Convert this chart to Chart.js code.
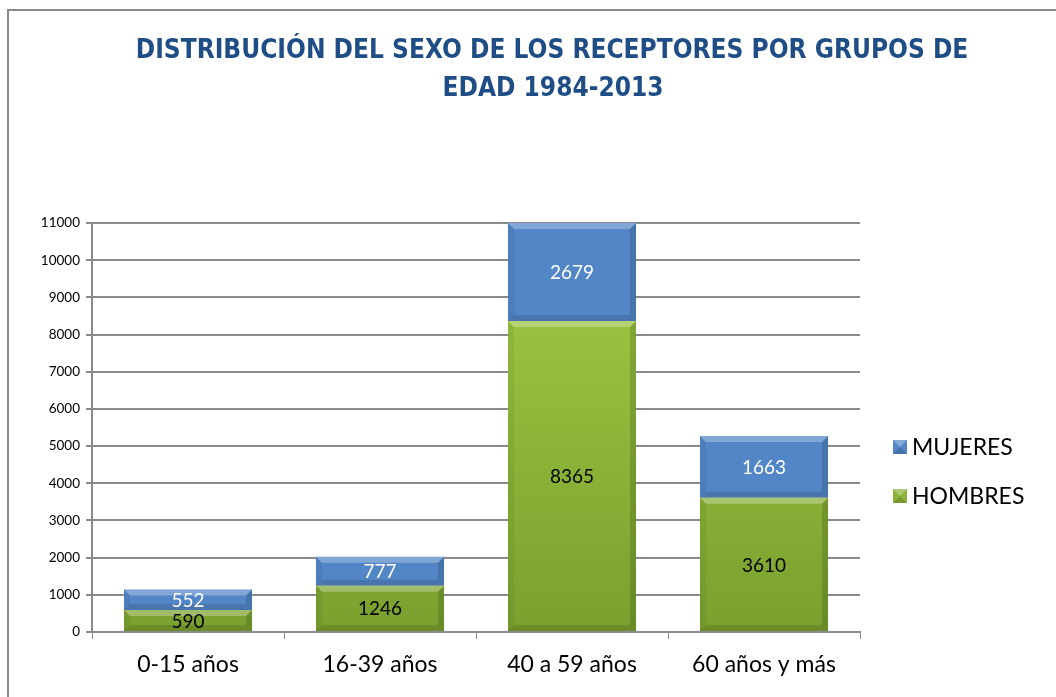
<!DOCTYPE html>
<html>
<head>
<meta charset="utf-8">
<script src="https://cdn.jsdelivr.net/npm/chart.js@4.4.1/dist/chart.umd.min.js"></script>
<style>
  html, body { margin: 0; padding: 0; background: #fff; }
  #wrap { position: relative; width: 1056px; height: 697px; }
</style>
</head>
<body>
<div id="wrap"><canvas id="c" width="1056" height="697"></canvas></div>
<script>
// datos
const categorias = ['0-15 años', '16-39 años', '40 a 59 años', '60 años y más'];
const hombres = [590, 1246, 8365, 3610];
const mujeres = [552, 777, 2679, 1663];
const yMax = 11000;
const yPaso = 1000;
const titulo = ['DISTRIBUCIÓN DEL SEXO DE LOS RECEPTORES POR GRUPOS DE', 'EDAD 1984-2013'];

const FONT = "Lato, 'Open Sans', sans-serif";

// marco gris (solo izquierda y arriba, como en el original) + título
const marco = {
  id: 'marco',
  afterDraw(chart) {
    const ctx = chart.ctx;
    ctx.save();
    ctx.strokeStyle = '#8a8a8a';
    ctx.lineWidth = 2;
    ctx.beginPath();
    ctx.moveTo(8, 697);
    ctx.lineTo(8, 10);
    ctx.lineTo(1056, 10);
    ctx.stroke();

    ctx.fillStyle = '#1f4e87';
    ctx.font = "bold 26px 'DejaVu Sans Condensed', sans-serif";
    ctx.textAlign = 'center';
    ctx.textBaseline = 'middle';
    ctx.fillText(titulo[0], 552, 51);
    ctx.fillText(titulo[1], 553, 89);
    ctx.restore();
  }
};

// bisel tipo Excel + etiquetas de valores
const bisel = {
  id: 'bisel',
  afterDatasetsDraw(chart) {
    const ctx = chart.ctx;
    const area = chart.chartArea;
    ctx.save();
    chart.data.datasets.forEach((ds, di) => {
      const meta = chart.getDatasetMeta(di);
      meta.data.forEach((bar, i) => {
        const l = bar.x - bar.width / 2, r = bar.x + bar.width / 2;
        const t = Math.max(Math.min(bar.y, bar.base), area.top);
        const b = Math.min(Math.max(bar.y, bar.base), area.bottom);
        const h = b - t;
        const bv = Math.min(6, h / 3);
        // arriba claro
        ctx.fillStyle = 'rgba(255,255,255,0.28)';
        ctx.beginPath();
        ctx.moveTo(l, t); ctx.lineTo(r, t); ctx.lineTo(r - bv, t + bv); ctx.lineTo(l + bv, t + bv);
        ctx.closePath(); ctx.fill();
        // abajo oscuro
        ctx.fillStyle = 'rgba(0,0,0,0.12)';
        ctx.beginPath();
        ctx.moveTo(l, b); ctx.lineTo(r, b); ctx.lineTo(r - bv, b - bv); ctx.lineTo(l + bv, b - bv);
        ctx.closePath(); ctx.fill();
        // lados
        ctx.fillStyle = 'rgba(0,0,0,0.06)';
        ctx.beginPath();
        ctx.moveTo(l, t); ctx.lineTo(l + bv, t + bv); ctx.lineTo(l + bv, b - bv); ctx.lineTo(l, b);
        ctx.closePath(); ctx.fill();
        ctx.fillStyle = 'rgba(0,0,0,0.14)';
        ctx.beginPath();
        ctx.moveTo(r, t); ctx.lineTo(r - bv, t + bv); ctx.lineTo(r - bv, b - bv); ctx.lineTo(r, b);
        ctx.closePath(); ctx.fill();

        // etiqueta
        ctx.fillStyle = di === 1 ? '#ffffff' : '#000000';
        ctx.font = '19px ' + FONT;
        ctx.textAlign = 'center';
        ctx.textBaseline = 'middle';
        ctx.fillText(String(ds.data[i]), bar.x, (t + b) / 2 + 1);
      });
    });
    ctx.restore();
  }
};

// leyenda a la derecha
const leyenda = {
  id: 'leyenda',
  afterDraw(chart) {
    const ctx = chart.ctx;
    const items = [
      { ds: chart.data.datasets[1], y: 447 },
      { ds: chart.data.datasets[0], y: 496 }
    ];
    ctx.save();
    items.forEach(it => {
      const x = 893, s = 14, y = it.y - s / 2;
      ctx.fillStyle = it.ds.legendColor;
      ctx.fillRect(x, y, s, s);
      ctx.fillStyle = 'rgba(255,255,255,0.3)';
      ctx.beginPath(); ctx.moveTo(x, y); ctx.lineTo(x + s, y); ctx.lineTo(x + s / 2, y + s / 2); ctx.closePath(); ctx.fill();
      ctx.fillStyle = 'rgba(0,0,0,0.15)';
      ctx.beginPath(); ctx.moveTo(x, y + s); ctx.lineTo(x + s, y + s); ctx.lineTo(x + s / 2, y + s / 2); ctx.closePath(); ctx.fill();
      ctx.fillStyle = '#000';
      ctx.font = '23px ' + FONT;
      ctx.textAlign = 'left';
      ctx.textBaseline = 'middle';
      ctx.fillText(it.ds.label, 912, it.y + 1);
    });
    ctx.restore();
  }
};

function verde(ctx) {
  const c = ctx.chart;
  if (!c.chartArea) return '#8db43a';
  const g = c.ctx.createLinearGradient(0, c.chartArea.top, 0, c.chartArea.bottom);
  g.addColorStop(0, '#a4cc44');
  g.addColorStop(1, '#7aa02f');
  return g;
}

new Chart(document.getElementById('c'), {
  type: 'bar',
  data: {
    labels: categorias,
    datasets: [
      { label: 'HOMBRES', data: hombres, backgroundColor: verde, legendColor: '#8db43a', clip: 0 },
      { label: 'MUJERES', data: mujeres, backgroundColor: '#5286c6', legendColor: '#5286c6', clip: 0 }
    ]
  },
  options: {
    responsive: false,
    animation: false,
    layout: { padding: { left: 0, right: 196, top: 223, bottom: 0 } },
    datasets: { bar: { categoryPercentage: 1, barPercentage: 0.667 } },
    scales: {
      x: {
        stacked: true,
        grid: { display: true, drawOnChartArea: false, offset: true, color: '#8a8a8a', tickLength: 7, lineWidth: 1 },
        border: { color: '#8a8a8a', width: 2 },
        ticks: { color: '#000', font: { family: FONT, size: 23 }, padding: 12 },
        afterFit(s) { s.height = 65; }
      },
      y: {
        stacked: true,
        min: 0, max: yMax,
        grid: { color: '#8a8a8a', lineWidth: 2, tickLength: 6 },
        border: { color: '#8a8a8a', width: 2 },
        ticks: { stepSize: yPaso, color: '#000', font: { family: FONT, size: 13.5 }, padding: 6, callback: v => String(v) },
        afterFit(s) { s.width = 92; }
      }
    },
    plugins: {
      legend: { display: false },
      tooltip: { enabled: false },
      title: { display: false }
    }
  },
  plugins: [bisel, leyenda, marco]
});
</script>
</body>
</html>
